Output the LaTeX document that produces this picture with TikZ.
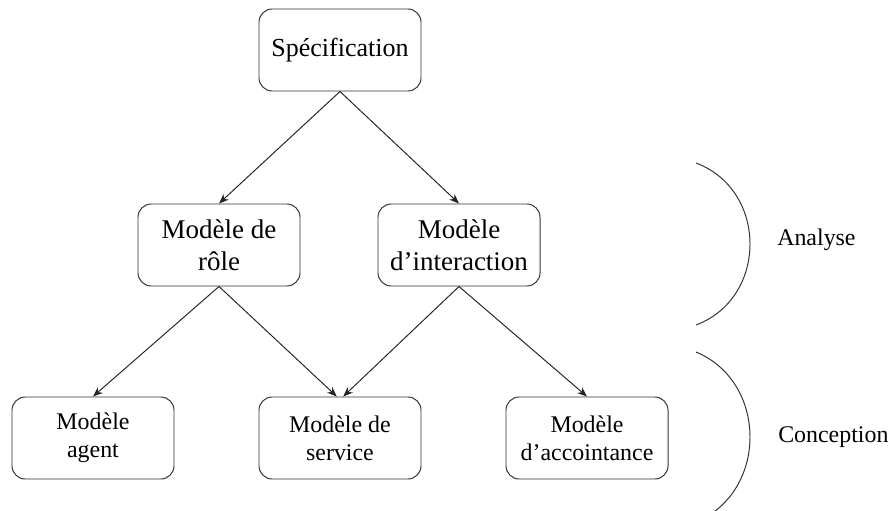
\documentclass[tikz,border=0pt]{standalone}
\usepackage{fontspec}
\setmainfont{Liberation Serif}
\usepackage{tikz}
\usetikzlibrary{arrows.meta, positioning, calc}

\begin{document}
\begin{tikzpicture}[
    boite/.style={draw=black!80, line width=0.7pt, rounded corners=0.33cm,
        minimum width=4.05cm, minimum height=2.05cm, align=center, inner sep=2pt},
    grand/.style={font=\fontsize{19.2}{22.5}\selectfont},
    petit/.style={font=\fontsize{17}{19.7}\selectfont},
    fleche/.style={-{Stealth[length=7pt,width=5.5pt]}, draw=black!85, line width=0.7pt},
    phase/.style={anchor=base west, inner sep=0pt, font=\fontsize{17}{20}\selectfont}
]
\clip (0,0) rectangle (22.2,12.75);
% Boites
\node[boite, font=\fontsize{18.5}{21}\selectfont] (spec) at (8.5,11.5) {Spécification};
\node[boite, grand] (role) at (5.475,6.625) {Modèle de\\rôle};
\node[boite, grand] (inter) at (11.475,6.625) {Modèle\\d’interaction};
\node[boite, petit] (agent) at (2.325,1.8) {Modèle\\agent};
\node[boite, petit] (service) at (8.5,1.8) {Modèle de\\service};
\node[boite, petit] (accoint) at (14.675,1.8) {Modèle\\d’accointance};
% Fleches
\draw[fleche] (spec.south) -- (role.north);
\draw[fleche] (spec.south) -- (inter.north);
\draw[fleche] (role.south) -- (agent.north);
\draw[fleche] (role.south) -- ([xshift=-0.08cm]service.north);
\draw[fleche] (inter.south) -- ([xshift=0.08cm]service.north);
\draw[fleche] (inter.south) -- (accoint.north);
% Accolades des phases
\draw[black!80, line width=0.7pt] (17.4,8.675) .. controls (19.2,8.0) and (19.2,5.3) .. (17.4,4.625);
\draw[black!80, line width=0.7pt] (17.4,3.95) .. controls (19.2,3.2) and (19.2,0.45) .. (17.4,-0.3);
\node[phase] (analyse) at (19.425,6.625) {Analyse};
\node[phase] (conception) at (19.45,1.7) {Conception};
\end{tikzpicture}
\end{document}
